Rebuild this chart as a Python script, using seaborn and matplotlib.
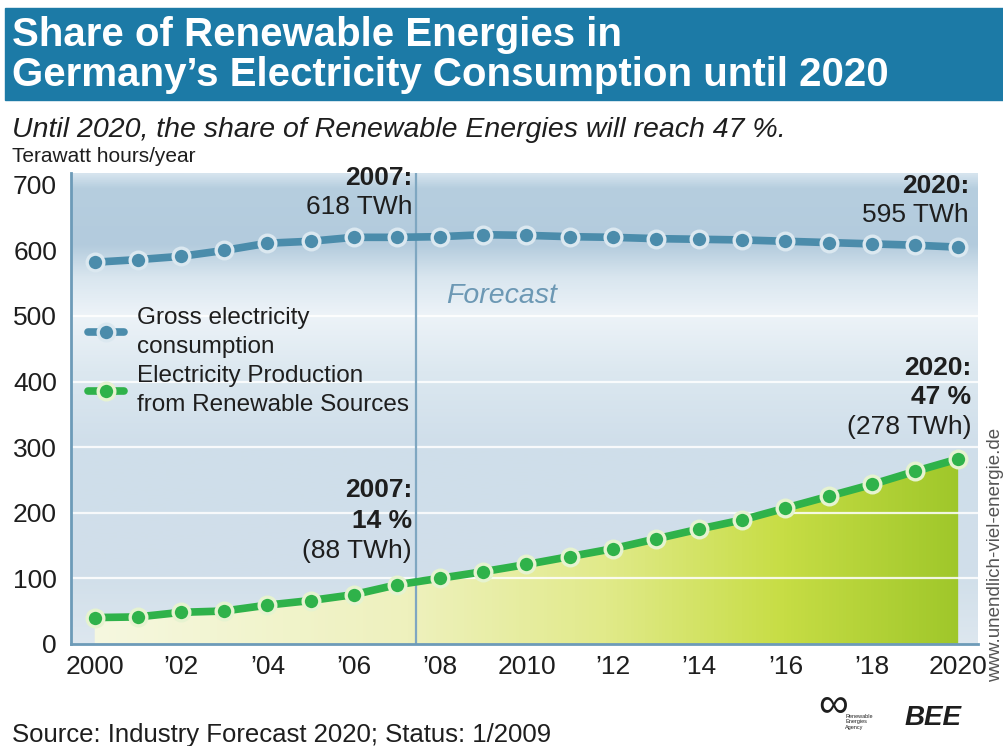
import numpy as np
import pandas as pd
import matplotlib
matplotlib.use("Agg")
import matplotlib.pyplot as plt
import seaborn as sns
from matplotlib.patches import Rectangle
from matplotlib.colors import LinearSegmentedColormap

# valeurs
years = list(range(2000, 2021))
gross_consumption = [582, 586, 591, 600, 611, 614, 620, 620, 621, 624, 623,
                     621, 620, 618, 617, 616, 614, 612, 610, 608, 605]
renewable_production = [40, 41, 48, 50, 59, 66, 75, 90, 100, 110, 121,
                        133, 145, 160, 175, 189, 207, 225, 243, 263, 282]
xtick_pos = list(range(2000, 2021, 2))
xtick_labels = ["2000", "\u201902", "\u201904", "\u201906", "\u201908", "2010",
                "\u201912", "\u201914", "\u201916", "\u201918", "2020"]
ytick_pos = [0, 100, 200, 300, 400, 500, 600, 700]

df = pd.DataFrame({"year": years, "gross": gross_consumption, "renew": renewable_production})

sns.set_style("white")
plt.rcParams["font.family"] = ["Liberation Sans", "DejaVu Sans"]

BLUE = "#4b8cab"
GREEN = "#2fb24a"
TXT = "#1e1e1e"

fig = plt.figure(figsize=(10.04, 7.46), dpi=100)
ax = fig.add_axes([0.0707, 0.137, 0.903, 0.631])
xmin, xmax, ymin, ymax = 1999.45, 2020.45, 0, 718
ax.set_xlim(xmin, xmax)
ax.set_ylim(ymin, ymax)

# fond en dégradé bleu
bg = LinearSegmentedColormap.from_list("bg", [
    (0.0, "#dde7ef"), (0.14, "#d1dfea"), (0.42, "#cfdeea"), (0.58, "#dce8f0"),
    (0.70, "#edf3f8"), (0.78, "#d9e6ef"), (0.85, "#b3cbdd"), (0.97, "#b6cedf"),
    (1.0, "#d6e4ee")])
grad = np.linspace(0, 1, 256).reshape(-1, 1)
ax.imshow(grad, cmap=bg, aspect="auto", origin="lower",
          extent=(xmin, xmax, ymin, ymax), zorder=0)

# surface verte sous la production renouvelable
green_cm = LinearSegmentedColormap.from_list("gr", [
    (0.0, "#f6f8e2"), (0.38, "#eef1bd"), (0.6, "#e1ea8a"),
    (0.8, "#c7dd45"), (1.0, "#9fc72a")])
hgrad = np.linspace(0, 1, 256).reshape(1, -1)
poly = ax.fill_between(df["year"], 0, df["renew"], color="none", lw=0)
img = ax.imshow(hgrad, cmap=green_cm, aspect="auto",
                extent=(xmin, 2020.05, ymin, ymax), zorder=1)
img.set_clip_path(poly.get_paths()[0], transform=ax.transData)

for v in [100, 200, 300, 400, 500]:
    ax.axhline(v, color="white", lw=1.6, alpha=0.85, zorder=1.5)

ax.axvline(2007.45, color="#7fa7c1", lw=1.6, zorder=2)

sns.lineplot(data=df, x="year", y="gross", ax=ax, color=BLUE, lw=5.5,
             marker="o", markersize=12, markeredgecolor="#dbe8f0",
             markeredgewidth=2.4, zorder=4, label="Gross electricity\nconsumption")
sns.lineplot(data=df, x="year", y="renew", ax=ax, color=GREEN, lw=5.5,
             marker="o", markersize=12, markeredgecolor="#e6f3d0",
             markeredgewidth=2.4, zorder=4,
             label="Electricity Production\nfrom Renewable Sources")

leg = ax.legend(loc="upper left", bbox_to_anchor=(0.0, 0.752), frameon=False,
                fontsize=17.5, handlelength=1.5, handletextpad=0.5,
                labelspacing=0.3, borderaxespad=0.3)
for t in leg.get_texts():
    t.set_color(TXT)
    t.set_linespacing(1.42)

ax.set_xticks(xtick_pos)
ax.set_xticklabels(xtick_labels)
ax.set_yticks(ytick_pos)
ax.tick_params(axis="both", length=0, labelsize=19, colors=TXT)
ax.tick_params(axis="x", pad=8)
ax.tick_params(axis="y", pad=10)
ax.set_xlabel("")
ax.set_ylabel("")
for s in ["top", "right"]:
    ax.spines[s].set_visible(False)
for s in ["left", "bottom"]:
    ax.spines[s].set_color("#6d9bb8")
    ax.spines[s].set_linewidth(2)
    ax.spines[s].set_zorder(3)

# annotations
def note(x, y, s, bold=False, **kw):
    ax.text(x, y, s, ha="right", va="center", fontsize=19, color=TXT,
            fontweight="bold" if bold else "normal", zorder=6, **kw)

note(2007.35, 711, "2007:", bold=True)
note(2007.35, 666, "618 TWh")
note(2020.25, 698, "2020:", bold=True)
note(2020.25, 654, "595 TWh")
note(2007.35, 235, "2007:", bold=True)
note(2007.35, 188, "14 %", bold=True)
note(2007.35, 141, "(88 TWh)")
note(2020.3, 421, "2020:", bold=True)
note(2020.3, 377, "47 %", bold=True)
note(2020.3, 330, "(278 TWh)")
ax.text(2008.15, 530, "Forecast", ha="left", va="center", fontsize=20.5,
        style="italic", color="#6c98b4", zorder=6)

# bandeau du titre
fig.patches.append(Rectangle((0.005, 1 - 100 / 746), 0.995, 92 / 746,
                             transform=fig.transFigure, color="#1c7aa6", zorder=0))
fig.text(0.012, 1 - 35 / 746, "Share of Renewable Energies in", fontsize=29,
         fontweight="bold", color="white", va="center")
fig.text(0.012, 1 - 75 / 746, "Germany\u2019s Electricity Consumption until 2020",
         fontsize=29, fontweight="bold", color="white", va="center")
fig.text(0.012, 1 - 130 / 746,
         "Until 2020, the share of Renewable Energies will reach 47 %.",
         fontsize=20.5, style="italic", color=TXT, va="center")
fig.text(0.012, 1 - 157 / 746, "Terawatt hours/year", fontsize=15,
         color=TXT, va="center")
fig.text(0.012, 1 - 735 / 746, "Source: Industry Forecast 2020; Status: 1/2009",
         fontsize=18.5, color=TXT, va="center")
fig.text(0.9915, 1 - 555 / 746, "www.unendlich-viel-energie.de", fontsize=13.5,
         color="#555555", rotation=90, ha="center", va="center")

# logos (approximation en texte)
fig.text(0.815, 1 - 706 / 746, "\u221e", fontsize=30, color=TXT, va="center")
fig.text(0.842, 1 - 722 / 746, "Renewable\nEnergies\nAgency", fontsize=4,
         color=TXT, va="center", linespacing=1.0)
fig.text(0.901, 1 - 718 / 746, "BEE", fontsize=20, fontweight="bold",
         style="italic", color=TXT, va="center")

fig.savefig("out.png", dpi=100)
